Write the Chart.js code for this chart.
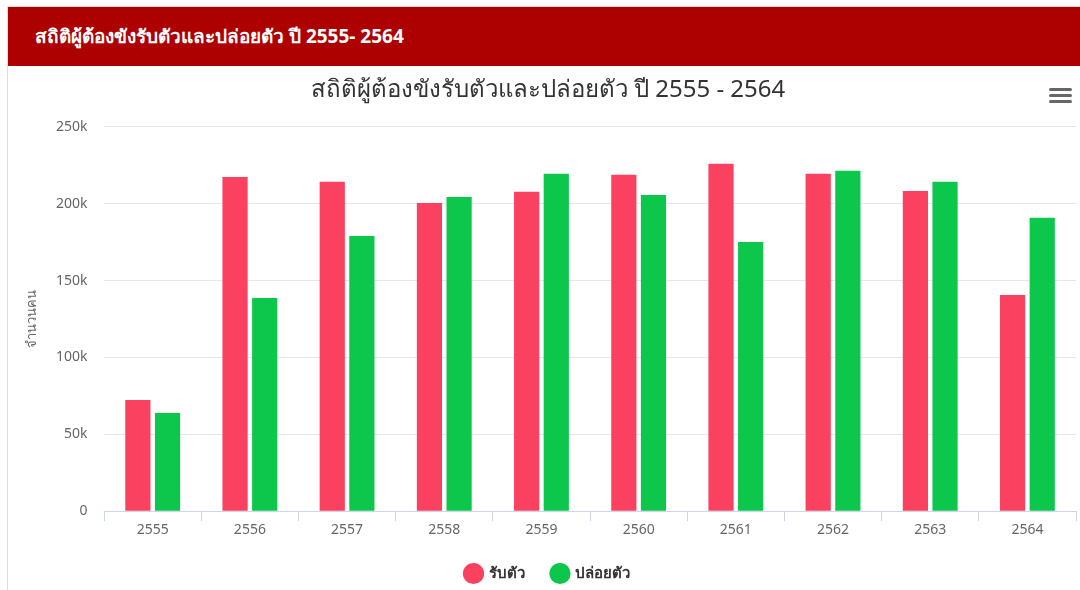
<!DOCTYPE html>
<html>
<head>
<meta charset="utf-8">
<script src="https://cdn.jsdelivr.net/npm/chart.js@4.4.0/dist/chart.umd.min.js"></script>
<style>
  html, body { margin: 0; padding: 0; background: #fff; width: 1080px; height: 590px; overflow: hidden; }
  body { font-family: 'Noto Sans', 'DejaVu Sans', sans-serif; }
  .card { position: absolute; left: 7px; top: 6px; width: 1080px; height: 600px; border: 1px solid #ddd; box-sizing: border-box; }
  .card-head { height: 59px; background: #ad0000; color: #fff; font-size: 19px; font-weight: bold; line-height: 59px; padding-left: 27px; }
  .chart-box { position: absolute; left: 0; top: 59px; width: 1073px; height: 525px; }
  .menu { position: absolute; left: 1041px; top: 22px; width: 23px; }
  .menu div { height: 3px; background: #666; border-radius: 2px; margin-bottom: 3px; }
</style>
</head>
<body>
<div class="card">
  <div class="card-head">สถิติผู้ต้องขังรับตัวและปล่อยตัว ปี 2555- 2564</div>
  <div class="chart-box">
    <canvas id="prisonChart"></canvas>
    <div class="menu"><div></div><div></div><div></div></div>
  </div>
</div>
<script>
const years    = ['2555','2556','2557','2558','2559','2560','2561','2562','2563','2564'];
const admitted = [72300, 217400, 214200, 200500, 207700, 218800, 225900, 219400, 208300, 140600];
const released = [63800, 138700, 179000, 204400, 219400, 205700, 175100, 221400, 214200, 190800];

const FONT = "'Noto Sans', 'DejaVu Sans', sans-serif";

new Chart(document.getElementById('prisonChart'), {
  type: 'bar',
  data: {
    labels: years,
    datasets: [
      { label: 'รับตัว', data: admitted, backgroundColor: '#fb4160', borderWidth: 0 },
      { label: 'ปล่อยตัว', data: released, backgroundColor: '#0dc64c', borderWidth: 0 },
    ],
  },
  options: {
    responsive: true,
    maintainAspectRatio: false,
    animation: false,
    categoryPercentage: 0.61,
    barPercentage: 0.85,
    layout: { padding: { left: 12, right: 5, top: 4, bottom: 0 } },
    plugins: {
      title: {
        display: true,
        text: 'สถิติผู้ต้องขังรับตัวและปล่อยตัว ปี 2555 - 2564',
        color: '#333',
        font: { family: FONT, size: 24, weight: 'normal' },
        padding: { top: 6, bottom: 22 },
      },
      legend: {
        position: 'bottom',
        labels: {
          usePointStyle: true,
          pointStyle: 'circle',
          boxWidth: 16,
          boxHeight: 16,
          padding: 28,
          color: '#333',
          font: { family: FONT, size: 15, weight: 'bold' },
        },
      },
      tooltip: { enabled: false },
    },
    scales: {
      x: {
        grid: { offset: true, drawOnChartArea: false, drawTicks: true, tickLength: 10, color: '#ccd6eb' },
        border: { color: '#ccd6eb' },
        ticks: { color: '#666', font: { family: FONT, size: 14 }, padding: 0 },
      },
      y: {
        min: 0,
        max: 250000,
        ticks: {
          stepSize: 50000,
          color: '#666',
          font: { family: FONT, size: 14 },
          padding: 16.5,
          callback: v => v === 0 ? '0' : (v / 1000) + 'k',
        },
        grid: { color: '#e6e6e6', drawTicks: false },
        border: { display: false },
        title: {
          display: true,
          text: 'จำนวนคน',
          color: '#666',
          font: { family: FONT, size: 13 },
          padding: { top: 4, bottom: 0 },
        },
      },
    },
  },
});
</script>
</body>
</html>
